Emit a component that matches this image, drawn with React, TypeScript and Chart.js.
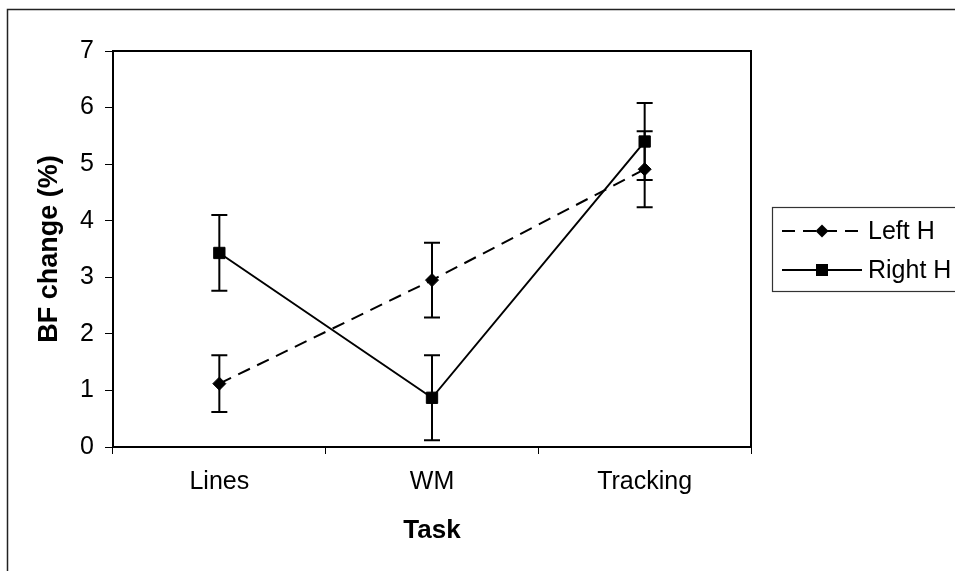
import React, { useEffect, useRef } from "react";
import { Chart, registerables } from "chart.js";

Chart.register(...registerables);

const categories = ["Lines", "WM", "Tracking"];
const seriesNames = ["Left H", "Right H"];
const leftH = [1.12, 2.95, 4.91];
const leftErr = [0.5, 0.66, 0.67];
const rightH = [3.43, 0.87, 5.4];
const rightErr = [0.67, 0.75, 0.68];
const yMin = 0;
const yMax = 7;
const yStep = 1;
const yTitle = "BF change (%)";
const xTitle = "Task";

const FONT = "'Liberation Sans', Arial, sans-serif";

const errorBarsPlugin = {
  id: "errorBars",
  beforeDatasetsDraw(chart: any) {
    const ctx = chart.ctx;
    const y = chart.scales.y;
    chart.data.datasets.forEach((ds: any, di: number) => {
      const meta = chart.getDatasetMeta(di);
      meta.data.forEach((pt: any, i: number) => {
        const v = ds.data[i];
        const e = ds.errors[i];
        const px = pt.x;
        const yt = y.getPixelForValue(v + e);
        const yb = y.getPixelForValue(v - e);
        ctx.save();
        ctx.strokeStyle = "#000";
        ctx.lineWidth = 2;
        ctx.setLineDash([]);
        ctx.beginPath();
        ctx.moveTo(px, yt);
        ctx.lineTo(px, yb);
        ctx.moveTo(px - 8, yt);
        ctx.lineTo(px + 8, yt);
        ctx.moveTo(px - 8, yb);
        ctx.lineTo(px + 8, yb);
        ctx.stroke();
        ctx.restore();
      });
    });
  },
};

const framePlugin = {
  id: "frame",
  afterDraw(chart: any) {
    const ctx = chart.ctx;
    const a = chart.chartArea;
    ctx.save();
    // outer border
    ctx.strokeStyle = "#222";
    ctx.lineWidth = 1.5;
    ctx.strokeRect(7.5, 9.5, 1100, 700);
    // plot frame
    ctx.strokeStyle = "#000";
    ctx.lineWidth = 2;
    ctx.strokeRect(a.left, a.top, a.right - a.left, a.bottom - a.top);
    // legend
    const bx = 772;
    const by = 207;
    const bh = 84;
    ctx.lineWidth = 1.2;
    ctx.strokeStyle = "#333";
    ctx.strokeRect(bx + 0.5, by + 0.5, 400, bh);
    const rows = [231, 270];
    chart.data.datasets.forEach((ds: any, i: number) => {
      const ry = rows[i];
      ctx.strokeStyle = "#000";
      ctx.lineWidth = 2;
      ctx.setLineDash(ds.borderDash || []);
      ctx.beginPath();
      ctx.moveTo(782, ry);
      ctx.lineTo(862, ry);
      ctx.stroke();
      ctx.setLineDash([]);
      ctx.fillStyle = "#000";
      ctx.beginPath();
      if (ds.pointStyle === "rectRot") {
        const r = 6.5;
        ctx.moveTo(822 - r, ry);
        ctx.lineTo(822, ry - r);
        ctx.lineTo(822 + r, ry);
        ctx.lineTo(822, ry + r);
        ctx.closePath();
      } else {
        ctx.rect(822 - 6, ry - 6, 12, 12);
      }
      ctx.fill();
      ctx.font = `25px ${FONT}`;
      ctx.textBaseline = "middle";
      ctx.textAlign = "left";
      ctx.fillText(ds.label, 868, ry + 1);
    });
    ctx.restore();
  },
};

export default function App() {
  const ref = useRef<HTMLCanvasElement | null>(null);
  useEffect(() => {
    if (!ref.current) return;
    const chart = new Chart(ref.current, {
      type: "line",
      data: {
        labels: categories,
        datasets: [
          {
            label: seriesNames[0],
            data: leftH,
            errors: leftErr,
            borderColor: "#000",
            backgroundColor: "#000",
            borderWidth: 2,
            borderDash: [13, 8],
            pointStyle: "rectRot",
            pointRadius: 6.5,
            pointBorderWidth: 1,
            pointBackgroundColor: "#000",
            pointBorderColor: "#000",
            tension: 0,
          } as any,
          {
            label: seriesNames[1],
            data: rightH,
            errors: rightErr,
            borderColor: "#000",
            backgroundColor: "#000",
            borderWidth: 2,
            pointStyle: "rect",
            pointRadius: 8,
            pointBorderWidth: 1,
            pointBackgroundColor: "#000",
            pointBorderColor: "#000",
            tension: 0,
          } as any,
        ],
      },
      options: {
        animation: false,
        responsive: false,
        devicePixelRatio: 1,
        layout: { padding: { left: 20, top: 51, right: 204, bottom: 14 } },
        plugins: {
          legend: { display: false },
          tooltip: { enabled: false },
        },
        scales: {
          x: {
            type: "category",
            offset: true,
            grid: {
              offset: true,
              drawOnChartArea: false,
              drawTicks: true,
              tickLength: 7,
              color: "#000",
              lineWidth: 1,
            },
            border: { display: false },
            ticks: {
              color: "#000",
              font: { family: FONT, size: 25 },
              padding: 13,
              maxRotation: 0,
              minRotation: 0,
            },
            title: {
              display: true,
              text: xTitle,
              color: "#000",
              font: { family: FONT, size: 26, weight: "bold" },
              padding: { top: 0, bottom: 11 },
            },
            afterFit(scale: any) {
              scale.height = 110;
            },
          },
          y: {
            min: yMin,
            max: yMax,
            grid: {
              drawOnChartArea: false,
              drawTicks: true,
              tickLength: 8,
              color: "#000",
              lineWidth: 1,
            },
            border: { display: false },
            ticks: {
              stepSize: yStep,
              color: "#000",
              font: { family: FONT, size: 25 },
              padding: 11,
            },
            title: {
              display: true,
              text: yTitle,
              color: "#000",
              font: { family: FONT, size: 27, weight: "bold" },
              padding: { top: 13, bottom: 0 },
            },
            afterFit(scale: any) {
              scale.width = 93;
            },
          },
        },
      } as any,
      plugins: [errorBarsPlugin, framePlugin],
    });
    return () => chart.destroy();
  }, []);
  return (
    <div style={{ position: "fixed", left: 0, top: 0, width: 955, height: 571, background: "#fff" }}>
      <canvas ref={ref} width={955} height={571} style={{ display: "block" }} />
    </div>
  );
}
